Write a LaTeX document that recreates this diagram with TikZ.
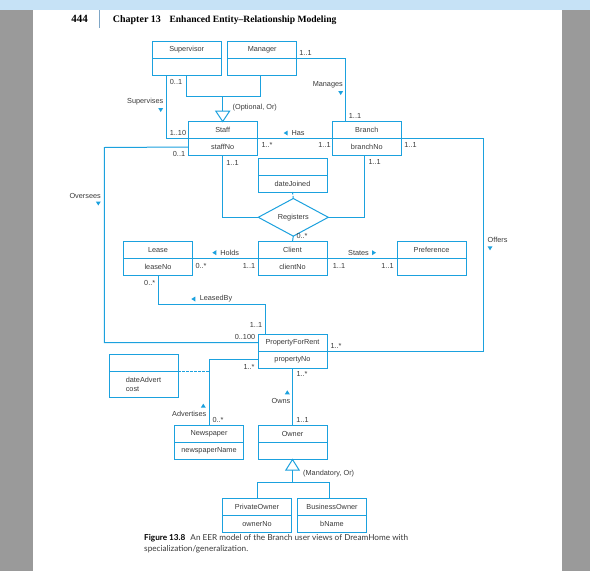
\documentclass[tikz,border=0pt]{standalone}
\usepackage{fontspec}
\setmainfont{Liberation Sans}
\newfontfamily\bookfont{Liberation Serif}
\newfontfamily\capfont{Lato}
\usetikzlibrary{shapes.geometric,calc}

\definecolor{eerblue}{HTML}{1BA1DE}
\definecolor{eertext}{HTML}{3A3A3A}
\definecolor{margingray}{HTML}{9A9A9A}
\definecolor{bandblue}{HTML}{C6E2F6}
\definecolor{headrule}{HTML}{7FA6C6}

\tikzset{
  ent/.style={draw=eerblue, line width=1pt, outer sep=0pt, inner sep=0pt,
    minimum width=69pt, minimum height=17pt, text=eertext,
    font=\fontsize{7.3}{8.5}\selectfont},
  link/.style={draw=eerblue, line width=1pt},
  mult/.style={text=eertext, inner sep=0pt, font=\fontsize{7.3}{8}\selectfont},
  dashlink/.style={link, dash pattern=on 2.5pt off 1.5pt},
}

% box with name and attribute compartments
\newcommand{\eerbox}[4]{%
  \node[ent] (#1) at (#2) {#3};
  \node[ent, anchor=north] (#1-a) at (#1.south) {#4};}

% small direction marks
\newcommand{\dirdown}[1]{\fill[eerblue] (#1) ++(-2.5,-2) -- ++(5,0) -- ++(-2.5,4) -- cycle;}
\newcommand{\dirup}[1]{\fill[eerblue] (#1) ++(-2.5,2) -- ++(5,0) -- ++(-2.5,-4) -- cycle;}
\newcommand{\dirleft}[1]{\fill[eerblue] (#1) ++(2,-2.5) -- ++(0,5) -- ++(-4,-2.5) -- cycle;}
\newcommand{\dirright}[1]{\fill[eerblue] (#1) ++(-2,-2.5) -- ++(0,5) -- ++(4,-2.5) -- cycle;}

\begin{document}
\begin{tikzpicture}[x=1pt,y=-1pt]

	% page
	\fill[white] (0,0) rectangle (590,571);
	\fill[margingray] (0,0) rectangle (33,571);
	\fill[margingray] (562,0) rectangle (590,571);
	\fill[bandblue] (0,0) rectangle (590,10);
	\useasboundingbox (0,0) rectangle (590,571);

	% running head
	\node[anchor=base east, inner sep=0pt, font=\bookfont\bfseries\fontsize{11}{12}\selectfont] (pg) at (88,22) {444};
	\draw[headrule, line width=1pt] (99.3,10) -- (99.3,28.3);
	\node[anchor=base west, inner sep=0pt, font=\bookfont\bfseries\fontsize{10}{12}\selectfont] (chap) at (112.7,22) {Chapter 13};
	\node[anchor=base west, inner sep=0pt, font=\bookfont\bfseries\fontsize{9.6}{11}\selectfont] (ttl) at (169.3,22) {Enhanced Entity–Relationship Modeling};

	% entities
	\eerbox{sup}{186.7,49.5}{Supervisor}{}
	\eerbox{mgr}{262.2,49.5}{Manager}{}
	\eerbox{staff}{222.7,130}{Staff}{staffNo}
	\eerbox{branch}{366.8,130}{Branch}{branchNo}
	\eerbox{dj}{292.5,166.5}{}{dateJoined}
	\eerbox{lease}{158,250}{Lease}{leaseNo}
	\eerbox{client}{292.5,250}{Client}{clientNo}
	\eerbox{pref}{431.5,250}{Preference}{}
	\eerbox{pfr}{292.5,342.5}{PropertyForRent}{propertyNo}
	\eerbox{news}{209,434}{Newspaper}{newspaperName}
	\eerbox{owner}{292.5,434}{Owner}{}
	\eerbox{po}{257,507}{PrivateOwner}{ownerNo}
	\eerbox{bo}{332,507}{BusinessOwner}{bName}
	\node[ent] (adv) at (143.5,362.5) {};
	\node[ent, anchor=north, minimum height=26.3pt, align=left] (adv-a) at (adv.south) {dateAdvert\\cost};

	% relationship diamond
	\node[ent, diamond, minimum width=70pt, minimum height=23.5pt, fill=white] (reg) at (293.3,217.3) {Registers};

	% Supervises
	\draw[link] ([xshift=-20pt]sup-a.south) |- (staff.south west);
	\node[mult, anchor=east] (supv) at (163.5,102) {Supervises};
	\dirdown{160.7,110}
	\node[mult] (m1) at (176,81.7) {0..1};
	\node[mult] (m2) at (178,133) {1..10};

	% Supervisor / Manager superclass
	\draw[link] (sup-a.south) -- ++(0,21) coordinate (genl) -| ([xshift=-1.5pt]mgr-a.south);
	\draw[link] (genl -| staff.north) -- ($(staff.north)+(0,-10.5)$);
	\draw[link, fill=white] (staff.north) -- ++(-7,-10.5) -- ++(14,0) -- cycle;
	\node[mult, anchor=west] (opt) at (232.5,108) {(Optional, Or)};

	% Manages
	\draw[link] (mgr.south east) -| ([xshift=-21pt]branch.north);
	\node[mult] (m3) at (305.5,52.7) {1..1};
	\node[mult, anchor=east] (mng) at (343,85) {Manages};
	\dirdown{340.7,93}
	\node[mult] (m4) at (355,116) {1..1};

	% Has
	\draw[link] (staff.south east) -- (branch.south west);
	\dirleft{285.7,133}
	\node[mult] (has) at (298,133) {Has};
	\node[mult] (m5) at (267,145) {1..*};
	\node[mult] (m6) at (324.5,145) {1..1};

	% Offers
	\coordinate (offr) at (483,138.5);
	\draw[link] (branch.south east) -- (offr) |- (pfr.south east);
	\node[mult] (m7) at (410.5,145) {1..1};
	\node[mult, anchor=west] (off) at (487.5,240) {Offers};
	\dirdown{490,248.3}
	\node[mult] (m8) at (336,345.5) {1..*};

	% Oversees
	\coordinate (ovr) at (104.3,147.5);
	\draw[link] (staff-a.west) -- (ovr) |- (pfr.west);
	\node[mult] (m9) at (179,153.5) {0..1};
	\node[mult, anchor=east] (ovs) at (101,195.7) {Oversees};
	\dirdown{98.3,203.5}
	\node[mult] (m10) at (245,337.3) {0..100};

	% Registers
	\draw[link] (staff-a.south) |- (reg.west);
	\draw[link] ([xshift=-2.5pt]branch-a.south) |- (reg.east);
	\draw[dashlink] (dj-a.south) -- (reg.north);
	\draw[link] (reg.south) -- (client.north);
	\node[mult] (m11) at (232.5,162.5) {1..1};
	\node[mult] (m12) at (374.7,162.3) {1..1};
	\node[mult] (m13) at (302,236) {0..*};

	% Holds
	\draw[link] (lease.south east) -- (client.south west);
	\dirleft{214.3,252.7}
	\node[mult] (hld) at (229.7,252.7) {Holds};
	\node[mult] (m14) at (201,265.5) {0..*};
	\node[mult] (m15) at (249,265.5) {1..1};

	% States
	\draw[link] (client.south east) -- (pref.south west);
	\node[mult] (sts) at (358.5,252.7) {States};
	\dirright{374,252.7}
	\node[mult] (m16) at (339,265.5) {1..1};
	\node[mult] (m17) at (387.5,265.5) {1..1};

	% LeasedBy
	\draw[link] (lease-a.south) -- ++(0,28.7) -| ([xshift=-27pt]pfr.north);
	\node[mult] (m18) at (149.7,283.3) {0..*};
	\dirleft{193.3,299}
	\node[mult] (lsb) at (216,299) {LeasedBy};
	\node[mult] (m19) at (256,325) {1..1};

	% Advertises
	\draw[link] (pfr-a.west) -| (news.north);
	\draw[dashlink] (adv.south east) -- (adv.south east -| news.north);
	\node[mult] (m20) at (249,366.7) {1..*};
	\dirup{203.3,405.7}
	\node[mult, anchor=east] (adt) at (206.5,414) {Advertises};
	\node[mult] (m21) at (218,420) {0..*};

	% Owns
	\draw[link] (pfr-a.south) -- (owner.north);
	\node[mult] (m22) at (302,374.3) {1..*};
	\dirup{287.3,392.3}
	\node[mult] (own) at (281,401) {Owns};
	\node[mult] (m23) at (302.5,420) {1..1};

	% Owner subclasses
	\draw[link] ($(owner-a.south)+(0,10.7)$) -- ++(0,12.6) coordinate (spj);
	\draw[link] (po.north) |- (spj) -| ([xshift=-2.7pt]bo.north);
	\draw[link, fill=white] (owner-a.south) -- ++(-6.7,10.7) -- ++(13.4,0) -- cycle;
	\node[mult, anchor=west] (mand) at (303,474) {(Mandatory, Or)};

	% caption
	\node[anchor=base west, align=left, inner sep=0pt, text=eertext, font=\capfont\fontsize{8.2}{10.7}\selectfont] (cap) at (144,551)
		{\textcolor{black}{\textbf{Figure 13.8}}\hspace{3pt} An EER model of the Branch user views of DreamHome with\\specialization/generalization.};

\end{tikzpicture}
\end{document}
